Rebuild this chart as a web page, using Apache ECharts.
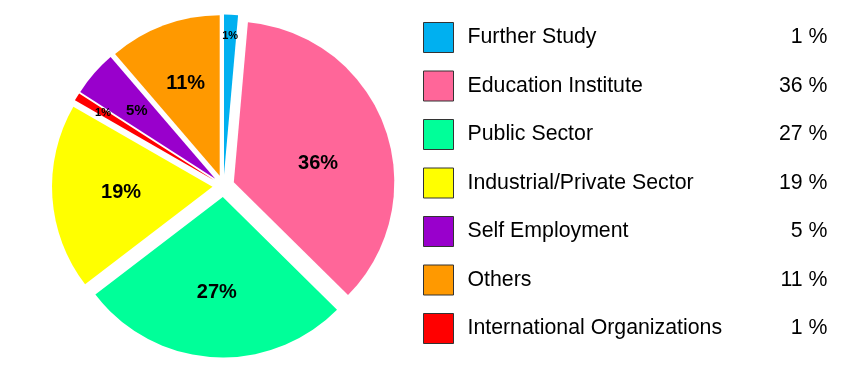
<!DOCTYPE html>
<html><head><meta charset="utf-8">
<script src="https://cdn.jsdelivr.net/npm/echarts@6/dist/echarts.min.js"></script>
<style>html,body{margin:0;padding:0;background:#fff}#c{width:859px;height:375px}</style>
</head><body><div id="c"></div>
<script>
// Slice order as drawn clockwise from 12 o'clock
const pieNames = ['Further Study', 'Education Institute', 'Public Sector', 'Industrial/Private Sector', 'International Organizations', 'Self Employment', 'Others'];
const pieValues = [1.4, 36.0, 27.2, 18.7, 0.8, 4.6, 11.3];
// Legend order
const legendNames = ['Further Study', 'Education Institute', 'Public Sector', 'Industrial/Private Sector', 'Self Employment', 'Others', 'International Organizations'];

// Styles (kept separate from data)
const sliceColors = ['#00B0F0', '#FF6699', '#00FF99', '#FFFF00', '#FF0000', '#9900CC', '#FF9900'];
const labelDistance = [150, 105, 107, 102.6, 141, 115, 109]; // label distance from pie centre
const labelShift = [null, { dx: -4, dy: 14 }, null, null, null, null, null];

const total = pieValues.reduce((a, b) => a + b, 0);
const pct = v => Math.round(v / total * 100);

const CENTER = [223.5, 186];
const R = 160.5;
const FONT = 'Liberation Sans, Arial, sans-serif';

function labelFontSize(v) {
  const p = v / total * 100;
  return p >= 10 ? 20 : (p >= 3 ? 15 : 11);
}

function labelSeries(k) {
  const r0 = 2 * (labelDistance[k] - 3) - R;
  const s = {
    type: 'pie', center: CENTER, radius: [r0, R], startAngle: 90, clockwise: true,
    silent: true, animation: false, selectedMode: false,
    itemStyle: { color: 'rgba(0,0,0,0)', borderWidth: 0 },
    labelLine: { show: false },
    emphasis: { disabled: true },
    label: {
      show: true, position: 'inside', color: '#000', fontWeight: 'bold', fontFamily: FONT,
      formatter: p => Math.round(p.percent) + '%'
    },
    data: pieNames.map((n, i) => ({
      name: n, value: pieValues[i],
      label: { show: i === k, fontSize: labelFontSize(pieValues[i]) }
    }))
  };
  if (labelShift[k]) s.labelLayout = labelShift[k];
  return s;
}

const chart = echarts.init(document.getElementById('c'), null, { renderer: 'canvas' });
chart.setOption({
  animation: false,
  backgroundColor: '#fff',
  legend: {
    orient: 'vertical', left: 423, top: 22, padding: 0,
    itemWidth: 30, itemHeight: 30, itemGap: 17.5,
    icon: 'rect', selectedMode: false,
    itemStyle: { borderColor: '#333', borderWidth: 1 },
    data: legendNames,
    formatter: name => {
      const v = pieValues[pieNames.indexOf(name)];
      return '{g|}{n|' + name + '}{v|' + pct(v) + ' %}';
    },
    textStyle: {
      fontFamily: FONT, fontSize: 21.3, color: '#000',
      rich: {
        g: { width: 9, fontSize: 21.3, fontFamily: FONT },
        n: { width: 290, fontSize: 21.3, fontFamily: FONT, color: '#000' },
        v: { width: 70, align: 'right', fontSize: 21.3, fontFamily: FONT, color: '#000' }
      }
    }
  },
  series: [
    {
      type: 'pie', center: CENTER, radius: [0, R], startAngle: 90, clockwise: true,
      selectedMode: 'multiple', selectedOffset: 11,
      label: { show: false }, labelLine: { show: false },
      emphasis: { disabled: true, scale: false },
      itemStyle: { borderWidth: 0 },
      data: pieNames.map((n, i) => ({
        name: n, value: pieValues[i], selected: true,
        itemStyle: { color: sliceColors[i] },
        select: { itemStyle: { color: sliceColors[i], borderWidth: 0 } }
      }))
    }
  ].concat(pieNames.map((n, k) => labelSeries(k)))
});
</script>
</body></html>
